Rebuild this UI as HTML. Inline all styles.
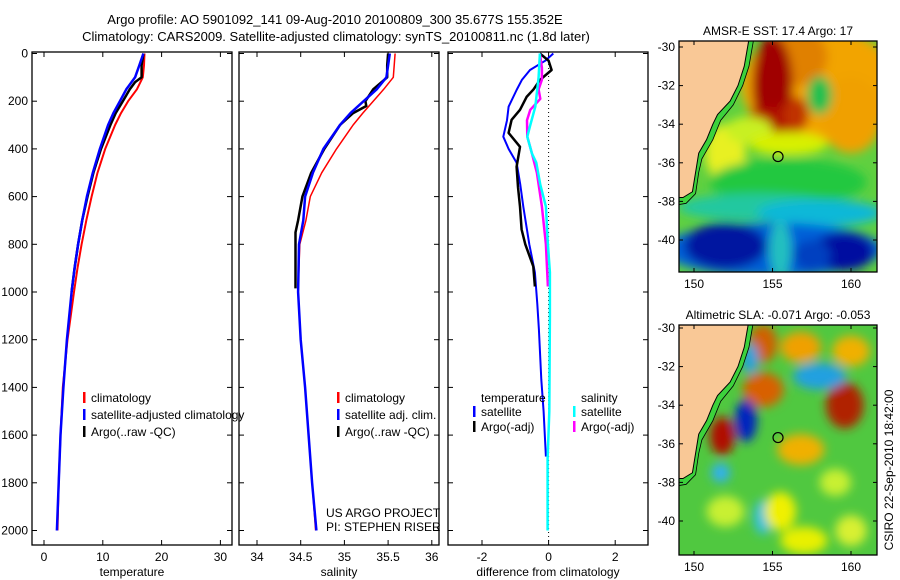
<!DOCTYPE html>
<html><head><meta charset="utf-8"><style>
html,body{margin:0;padding:0;background:#fff;}
svg{display:block;font-family:"Liberation Sans",sans-serif;}
text{fill:#000;}
</style></head><body>
<svg id="s" width="900" height="580" viewBox="0 0 900 580">
<defs>
<filter id="bl" x="-50%" y="-50%" width="200%" height="200%"><feGaussianBlur stdDeviation="5"/></filter>
<clipPath id="c1"><rect x="679" y="41" width="198" height="231"/></clipPath>
<clipPath id="c2"><rect x="679" y="325" width="198" height="230"/></clipPath>
</defs>
<text x="335" y="24" font-size="13" text-anchor="middle">Argo profile: AO 5901092_141 09-Aug-2010 20100809_300 35.677S 155.352E</text>
<text x="336" y="41" font-size="13" text-anchor="middle">Climatology: CARS2009. Satellite-adjusted climatology: synTS_20100811.nc (1.8d later)</text>
<g id="g"></g>
</svg>
<script>
// ---- depth axis data ----
const depthTicks=[0,200,400,600,800,1000,1200,1400,1600,1800,2000];
// temperature
const tDepth=[0,50,100,150,200,250,300,400,500,600,700,800,900,1000,1200,1400,1600,1800,2000];
const tClim=[17.1,17.0,16.8,15.8,14.3,13.1,12.1,10.4,9.1,8.1,7.2,6.4,5.7,5.1,4.0,3.2,2.8,2.5,2.3];
const tSat=[16.9,16.2,15.5,14.0,12.9,11.8,10.9,9.5,8.3,7.3,6.5,5.8,5.2,4.7,3.9,3.3,2.8,2.5,2.2];
const tArgoDepth=[0,50,100,120,150,200,250,300,400,500,600,700,800,900,1000];
const tArgo=[16.9,16.6,16.6,15.5,14.6,13.4,12.2,11.3,9.7,8.4,7.4,6.5,5.8,5.2,4.7];
const tTicks=[0,10,20,30];
// salinity
const sDepth=[0,50,100,150,200,250,300,400,500,600,700,800,1000,1200,1400,1600,1800,2000];
const sClim=[35.58,35.57,35.56,35.45,35.33,35.21,35.10,34.91,34.74,34.61,34.56,34.49,34.47,34.50,34.55,34.59,34.63,34.67];
const sSat=[35.52,35.50,35.48,35.37,35.22,35.07,34.95,34.76,34.64,34.55,34.53,34.48,34.47,34.50,34.55,34.59,34.63,34.68];
const sArgoDepth=[0,50,100,150,200,220,250,300,400,500,600,700,750,800,900,985];
const sArgo=[35.50,35.49,35.49,35.33,35.24,35.25,35.10,34.95,34.77,34.62,34.52,34.47,34.44,34.44,34.44,34.44];
const sTicks=[34,34.5,35,35.5,36];
// differences
const dTSatDepth=[0,30,69,110,153,223,280,349,400,458,550,642,800,918,1050,1157,1367,1500,1690];
const dTSat=[0.14,-0.1,-0.56,-0.8,-0.96,-1.2,-1.25,-1.36,-1.2,-0.96,-0.85,-0.76,-0.58,-0.41,-0.34,-0.29,-0.22,-0.15,-0.08];
const dTArgoDepth=[0,30,69,111,150,182,236,278,333,391,475,560,642,738,800,893,977];
const dTArgo=[-0.26,0.0,0.09,-0.26,-0.45,-0.66,-0.86,-1.11,-1.2,-0.86,-0.96,-0.92,-0.86,-0.81,-0.7,-0.46,-0.41];
const dSSatDepth=[0,100,223,300,349,420,458,550,642,800,918,1100,1300,1500,1700,2000];
const dSSat=[-0.26,-0.3,-0.4,-0.55,-0.64,-0.5,-0.37,-0.25,-0.08,-0.02,0.04,0.04,0.03,0.02,-0.03,-0.03];
const dSArgoDepth=[0,60,110,150,190,236,280,349,420,500,642,800,977];
const dSArgo=[-0.26,-0.2,-0.2,-0.3,-0.25,-0.55,-0.65,-0.64,-0.5,-0.35,-0.2,-0.08,-0.02];
const dTicks=[-2,0,2];
// map tick labels
const lonTicks=[150,155,160];
const latTicks=[-30,-32,-34,-36,-38,-40];

const NS='http://www.w3.org/2000/svg';
const G=document.getElementById('g');
function mk(tag,at,parent){const e=document.createElementNS(NS,tag);for(const k in at)e.setAttribute(k,at[k]);(parent||G).appendChild(e);return e;}
const yD=d=>53.5+d*0.2385;
const panels=[
 {x0:32,x1:232,f:v=>44+v*5.88,ticks:tTicks,lab:'temperature',name:'temperature-panel'},
 {x0:239,x1:439,f:v=>257+(v-34)*87.4,ticks:sTicks,lab:'salinity',name:'salinity-panel'},
 {x0:448,x1:648,f:v=>548.6+v*33.3,ticks:dTicks,lab:'difference from climatology',name:'difference-panel'}];
panels.forEach((p,i)=>{
 const r=mk('rect',{x:p.x0,y:52,width:p.x1-p.x0,height:493,fill:'none',stroke:'#000','stroke-width':1.3});
 
 
 p.ticks.forEach(t=>{const x=p.f(t);
  mk('line',{x1:x,x2:x,y1:545,y2:540,stroke:'#000'});mk('line',{x1:x,x2:x,y1:52,y2:57,stroke:'#000'});
  const tx=mk('text',{x:x,y:561,'font-size':12,'text-anchor':'middle'});tx.textContent=t;
  
  });
 depthTicks.forEach(d=>{const y=yD(d);
  mk('line',{x1:p.x0,x2:p.x0+5,y1:y,y2:y,stroke:'#000'});mk('line',{x1:p.x1,x2:p.x1-5,y1:y,y2:y,stroke:'#000'});
  if(i==0){const tx=mk('text',{x:28,y:y+4,'font-size':12,'text-anchor':'end'});tx.textContent=d;
   
   }});
 const xl=mk('text',{x:(p.x0+p.x1)/2,y:576,'font-size':12,'text-anchor':'middle'});xl.textContent=p.lab;
 
 
});
function line(depths,vals,f,col,w,name){
 const pts=depths.map((d,i)=>f(vals[i]).toFixed(1)+','+yD(d).toFixed(1)).join(' ');
 const e=mk('polyline',{points:pts,fill:'none',stroke:col,'stroke-width':w,'stroke-linejoin':'round'});
 
 }
const z=panels[2].f(0);
const zl=mk('line',{x1:z,x2:z,y1:52,y2:545,stroke:'#000','stroke-dasharray':'1,3'});


line(tDepth,tClim,panels[0].f,'#f00',2,'temperature-climatology-line');
line(tArgoDepth,tArgo,panels[0].f,'#000',2.5,'temperature-argo-line');
line(tDepth,tSat,panels[0].f,'#00f',2.5,'temperature-satellite-line');
line(sDepth,sClim,panels[1].f,'#f00',1.5,'salinity-climatology-line');
line(sArgoDepth,sArgo,panels[1].f,'#000',2.5,'salinity-argo-line');
line(sDepth,sSat,panels[1].f,'#00f',2.5,'salinity-satellite-line');
line(dTSatDepth,dTSat,panels[2].f,'#00f',2,'diff-temperature-satellite-line');
line(dTArgoDepth,dTArgo,panels[2].f,'#000',2.5,'diff-temperature-argo-line');
line(dSArgoDepth,dSArgo,panels[2].f,'#f0f',2.5,'diff-salinity-argo-line');
line(dSSatDepth,dSSat,panels[2].f,'#0ff',2.5,'diff-salinity-satellite-line');
function leg(x,y,col,txt){if(col){const b=mk('rect',{x:x,y:y-10,width:2.5,height:11,fill:col});
 
 }
 const t=mk('text',{x:x+8,y:y,'font-size':12});t.textContent=txt;
 
 }
leg(83,402,'#f00','climatology');leg(83,419,'#00f','satellite-adjusted climatology');leg(83,436,'#000','Argo(..raw -QC)');
leg(337,402,'#f00','climatology');leg(337,419,'#00f','satellite adj. clim.');leg(337,436,'#000','Argo(..raw -QC)');
leg(473,402,null,'temperature');leg(473,416,'#00f','satellite');leg(473,431,'#000','Argo(-adj)');
leg(573,402,null,'salinity');leg(573,416,'#0ff','satellite');leg(573,431,'#f0f','Argo(-adj)');
[['US ARGO PROJECT',517],['PI: STEPHEN RISER',531]].forEach(a=>{const t=mk('text',{x:326,y:a[1],'font-size':12});t.textContent=a[0];
 
 });
const lx=l=>694+(l-150)*15.7;
function mapFrame(top,bot,ly,title,clip,blobs,base,name){
 const ly0=ly;const yy=la=>ly0+(-30-la)*19.3;
 const g=mk('g',{'clip-path':'url(#'+clip+')'});
 
 
 mk('rect',{x:679,y:top,width:198,height:bot-top,fill:base},g);
 const gb=mk('g',{filter:'url(#bl)'},g);
 blobs.forEach(b=>mk('ellipse',{cx:lx(b[0]),cy:yy(b[1]),rx:b[2]*15.7,ry:b[3]*19.3,fill:b[4]},gb));
 const coast=[[153.5,-29.6],[153.2,-31],[152.8,-32],[152.3,-32.8],[151.5,-33.5],[151.2,-34],[150.8,-34.8],[150.3,-35.5],[150.1,-36.5],[149.9,-37.5],[149.3,-37.8],[148.8,-37.8]];
 const shelf=[[153.8,-29.6],[153.5,-31],[153.1,-32],[152.5,-33],[151.7,-33.8],[151.2,-34.8],[150.5,-35.8],[150.3,-36.5],[150.1,-37.6],[149.5,-38.1],[148.8,-38.2]];
 mk('polygon',{points:coast.concat(shelf.slice().reverse()).map(p=>lx(p[0])+','+yy(p[1])).join(' '),fill:'#3cd23c'},g);
 const land=mk('polygon',{points:coast.map(p=>lx(p[0])+','+yy(p[1])).join(' ')+' 670,'+yy(-37.8)+' 670,'+(top-5),fill:'#f9c896',stroke:'#000','stroke-width':1},g);
 
 
 mk('polyline',{points:shelf.map(p=>lx(p[0])+','+yy(p[1])).join(' '),fill:'none',stroke:'#000','stroke-width':0.8},g);
 const m=mk('circle',{cx:lx(155.352),cy:yy(-35.677),r:5,fill:'none',stroke:'#000','stroke-width':1.2});
 
 
 mk('rect',{x:679,y:top,width:198,height:bot-top,fill:'none',stroke:'#000','stroke-width':1.3});
 lonTicks.forEach(l=>{const x=lx(l);mk('line',{x1:x,x2:x,y1:bot,y2:bot-4,stroke:'#000'});mk('line',{x1:x,x2:x,y1:top,y2:top+4,stroke:'#000'});
  const t=mk('text',{x:x,y:bot+16,'font-size':12,'text-anchor':'middle'});t.textContent=l;
  
  });
 latTicks.forEach(la=>{const y=yy(la);mk('line',{x1:679,x2:683,y1:y,y2:y,stroke:'#000'});mk('line',{x1:877,x2:873,y1:y,y2:y,stroke:'#000'});
  const t=mk('text',{x:675,y:y+4,'font-size':12,'text-anchor':'end'});t.textContent=la;
  
  });
 const t=mk('text',{x:778,y:top-6,'font-size':12,'text-anchor':'middle'});t.textContent=title;
 
 
}
const sst=[
 [158,-32,5,3,'#f2a400'],[160,-33.5,2,2,'#f0a000'],[156.5,-30.5,2,1.5,'#e08000'],
 [158,-32.5,0.8,1,'#20c050'],[155,-32,1.3,2.6,'#a00000'],[155,-34,1.8,0.9,'#b01000'],[156.5,-33.5,0.8,0.9,'#c03000'],
 [152,-35.5,1.3,1.5,'#e8f020'],[153.5,-34.3,1.5,0.7,'#c8f020'],[156,-35,2.5,0.6,'#d8f000'],
 [156,-37,5,1.2,'#20c840'],[154,-38.3,5,0.7,'#20c8a0'],[158,-38.6,4,0.7,'#10b8d8'],
 [155,-40.5,7,1.4,'#0060d8'],
 [152,-40.3,2.6,1.2,'#0018a0'],[159.5,-40.6,2,1,'#0010a0'],[155.5,-40.5,0.7,1.5,'#20c0c0'],[157.5,-40.8,1.2,0.8,'#0040c0']];
const sla=[
 [154.4,-30.8,0.9,1,'#d06000'],[156.8,-31,1.3,0.8,'#f0a000'],[160,-31.2,1.2,0.8,'#f0b000'],
 [154.4,-33.2,1.3,0.9,'#d86000'],[159.6,-34,1.2,1.2,'#b02000'],[151.8,-35.6,0.8,1,'#b01000'],
 [156.8,-36.3,1.5,0.8,'#f0b000'],[153.3,-34.8,0.7,1.1,'#0020c0'],[158,-32.5,1.7,0.7,'#20a0e0'],
 [153.6,-31.6,0.5,0.8,'#20a0e0'],[151.7,-37.5,0.6,0.5,'#30b0f0'],[154.4,-39.8,0.6,0.9,'#30c0e0'],
 [155.5,-39.5,1,1,'#f0f000'],[157,-41,1.5,0.7,'#e8f000'],[152,-39.5,1.2,0.8,'#c8f030'],[159,-38,1,0.7,'#c8f030'],[160,-40.5,1,0.8,'#d8f030']];
mapFrame(41,272,47,'AMSR-E SST: 17.4  Argo: 17','c1',sst,'#60d040','sst-map');
mapFrame(325,555,328,'Altimetric SLA: -0.071  Argo: -0.053','c2',sla,'#50c840','sla-map');
const cs=mk('text',{x:893,y:470,'font-size':12,'text-anchor':'middle',transform:'rotate(-90 893 470)'});cs.textContent='CSIRO 22-Sep-2010 18:42:00';


</script>
</body></html>
